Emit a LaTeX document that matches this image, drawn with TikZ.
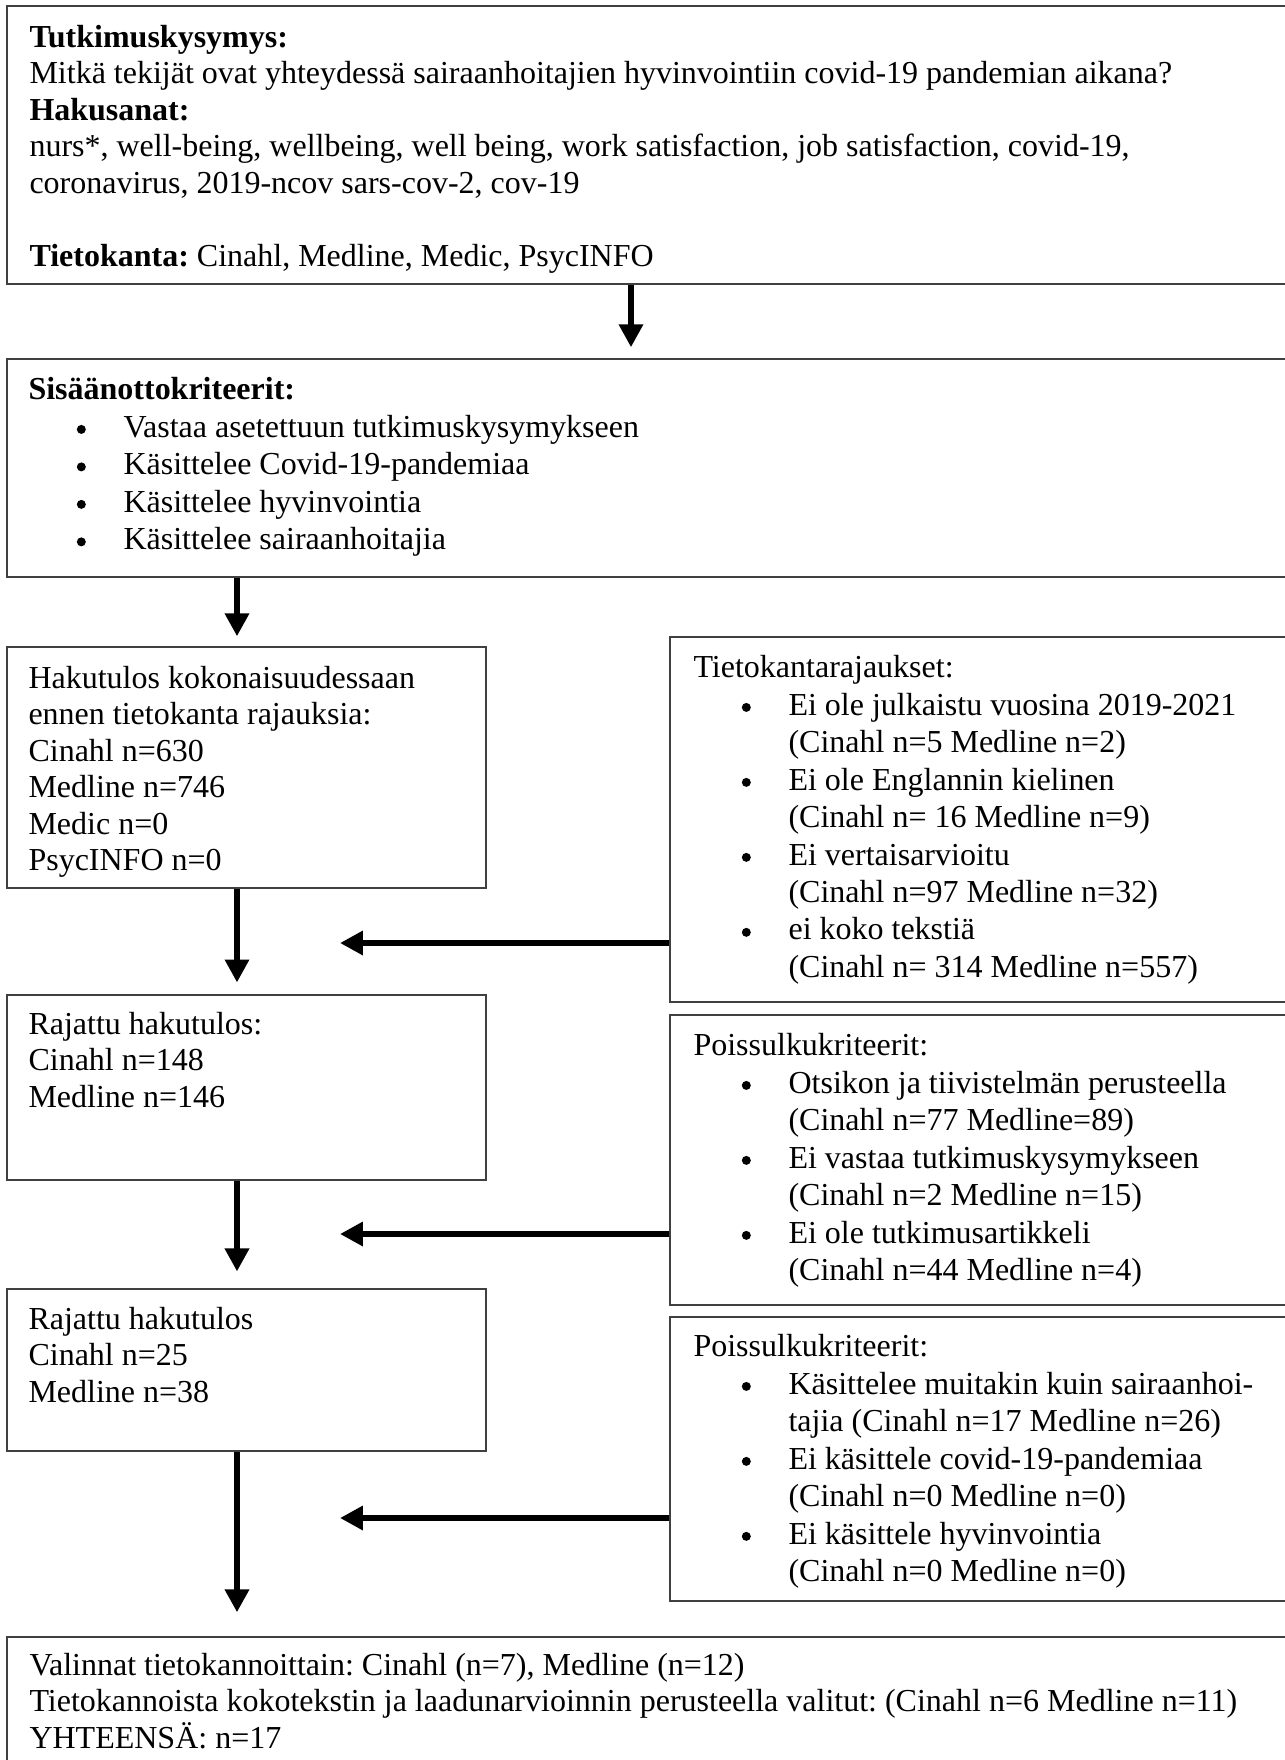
\documentclass[tikz,border=0pt]{standalone}
\usepackage{fontspec}
\setmainfont{Liberation Serif}
\usetikzlibrary{arrows.meta,fit}
\newcommand{\bdot}{\tikz[baseline=-2.9pt]\fill[black] (0,0) circle (1.7pt);}
\newcommand{\bitem}[1]{\makebox[36pt][l]{\hspace{18.3pt}\bdot}#1}
\newcommand{\bcont}[1]{\hspace*{36pt}#1}
\frenchspacing
\begin{document}
\begin{tikzpicture}[x=0.3788pt,y=-0.3788pt,
  box/.style={draw=black!75,line width=0.5pt,inner sep=0pt,rectangle},
  txt/.style={anchor=north west,inner sep=0pt,align=left,font=\fontsize{12.12}{13.8}\selectfont\frenchspacing},
  ltxt/.style={anchor=north west,inner sep=0pt,align=left,font=\fontsize{12.12}{14.2}\selectfont\frenchspacing},
  arr/.style={line width=2.6pt,-{Triangle[length=8.7pt,width=8.8pt]}}]
\useasboundingbox (0,0) rectangle (1285,1760);
\clip (0,0) rectangle (1285,1760);
\fill[white] (0,0) rectangle (1285,1760);

% boxes
\node[box, fit={(7,6) (1300,284)}] (box1) {};
\node[box, fit={(7,359) (1300,577)}] (box2) {};
\node[box, fit={(7,647) (486,888)}] (lb1) {};
\node[box, fit={(670,637) (1300,1002)}] (rb1) {};
\node[box, fit={(7,995) (486,1180)}] (lb2) {};
\node[box, fit={(670,1015) (1300,1305)}] (rb2) {};
\node[box, fit={(7,1289) (486,1451)}] (lb3) {};
\node[box, fit={(670,1317) (1300,1601)}] (rb3) {};
\node[box, fit={(7,1637) (1300,1775)}] (fin) {};

% texts
\node[txt] (t1) at (29,21.5) {\strut\textbf{Tutkimuskysymys:}\\
Mitkä tekijät ovat yhteydessä sairaanhoitajien hyvinvointiin covid-19 pandemian aikana?\\
\textbf{Hakusanat:}\\
nurs*, well-being, wellbeing, well being, work satisfaction, job satisfaction, covid-19,\\
coronavirus, 2019-ncov sars-cov-2, cov-19\\
\mbox{}\\
\textbf{Tietokanta:} Cinahl, Medline, Medic, PsycINFO};

\node[ltxt] (t2) at (28,372.8) {\strut\textbf{Sisäänottokriteerit:}\\
\bitem{Vastaa asetettuun tutkimuskysymykseen}\\
\bitem{Käsittelee Covid-19-pandemiaa}\\
\bitem{Käsittelee hyvinvointia}\\
\bitem{Käsittelee sairaanhoitajia}};

\node[txt] (tl1) at (28,662.5) {\strut Hakutulos kokonaisuudessaan\\
ennen tietokanta rajauksia:\\
Cinahl n=630\\
Medline n=746\\
Medic n=0\\
PsycINFO n=0};

\node[ltxt] (tr1) at (693,650.8) {\strut Tietokantarajaukset:\\
\bitem{Ei ole julkaistu vuosina 2019-2021}\\
\bcont{(Cinahl n=5 Medline n=2)}\\
\bitem{Ei ole Englannin kielinen}\\
\bcont{(Cinahl n= 16 Medline n=9)}\\
\bitem{Ei vertaisarvioitu}\\
\bcont{(Cinahl n=97 Medline n=32)}\\
\bitem{ei koko tekstiä}\\
\bcont{(Cinahl n= 314 Medline n=557)}};

\node[txt] (tl2) at (28,1008.5) {\strut Rajattu hakutulos:\\
Cinahl n=148\\
Medline n=146};

\node[ltxt] (tr2) at (693,1028.8) {\strut Poissulkukriteerit:\\
\bitem{Otsikon ja tiivistelmän perusteella}\\
\bcont{(Cinahl n=77 Medline=89)}\\
\bitem{Ei vastaa tutkimuskysymykseen}\\
\bcont{(Cinahl n=2 Medline n=15)}\\
\bitem{Ei ole tutkimusartikkeli}\\
\bcont{(Cinahl n=44 Medline n=4)}};

\node[txt] (tl3) at (28,1303.5) {\strut Rajattu hakutulos\\
Cinahl n=25\\
Medline n=38};

\node[ltxt] (tr3) at (693,1329.8) {\strut Poissulkukriteerit:\\
\bitem{Käsittelee muitakin kuin sairaanhoi-}\\
\bcont{tajia (Cinahl n=17 Medline n=26)}\\
\bitem{Ei käsittele covid-19-pandemiaa}\\
\bcont{(Cinahl n=0 Medline n=0)}\\
\bitem{Ei käsittele hyvinvointia}\\
\bcont{(Cinahl n=0 Medline n=0)}};

\node[txt] (tf) at (29,1649.5) {\strut Valinnat tietokannoittain: Cinahl (n=7), Medline (n=12)\\
Tietokannoista kokotekstin ja laadunarvioinnin perusteella valitut: (Cinahl n=6 Medline n=11)\\
YHTEENSÄ: n=17};

% connectors
\coordinate (ax) at (237,0);
\coordinate (bx) at (631,0);
\draw[arr,shorten >=4.2pt] (box1.south -| bx) -- (box2.north -| bx);
\draw[arr,shorten >=3.8pt] (box2.south -| ax) -- (lb1.north -| ax);
\draw[arr,shorten >=4.5pt] (lb1.south -| ax) -- (lb2.north -| ax);
\draw[arr,shorten >=6.4pt] (lb2.south -| ax) -- (lb3.north -| ax);
\draw[arr,shorten >=9.1pt] (lb3.south -| ax) -- (fin.north -| ax);
\coordinate (h1) at (340,943);
\coordinate (h2) at (340,1234);
\coordinate (h3) at (340,1518);
\draw[arr] (rb1.west |- h1) -- (h1);
\draw[arr] (rb2.west |- h2) -- (h2);
\draw[arr] (rb3.west |- h3) -- (h3);
\end{tikzpicture}
\end{document}
